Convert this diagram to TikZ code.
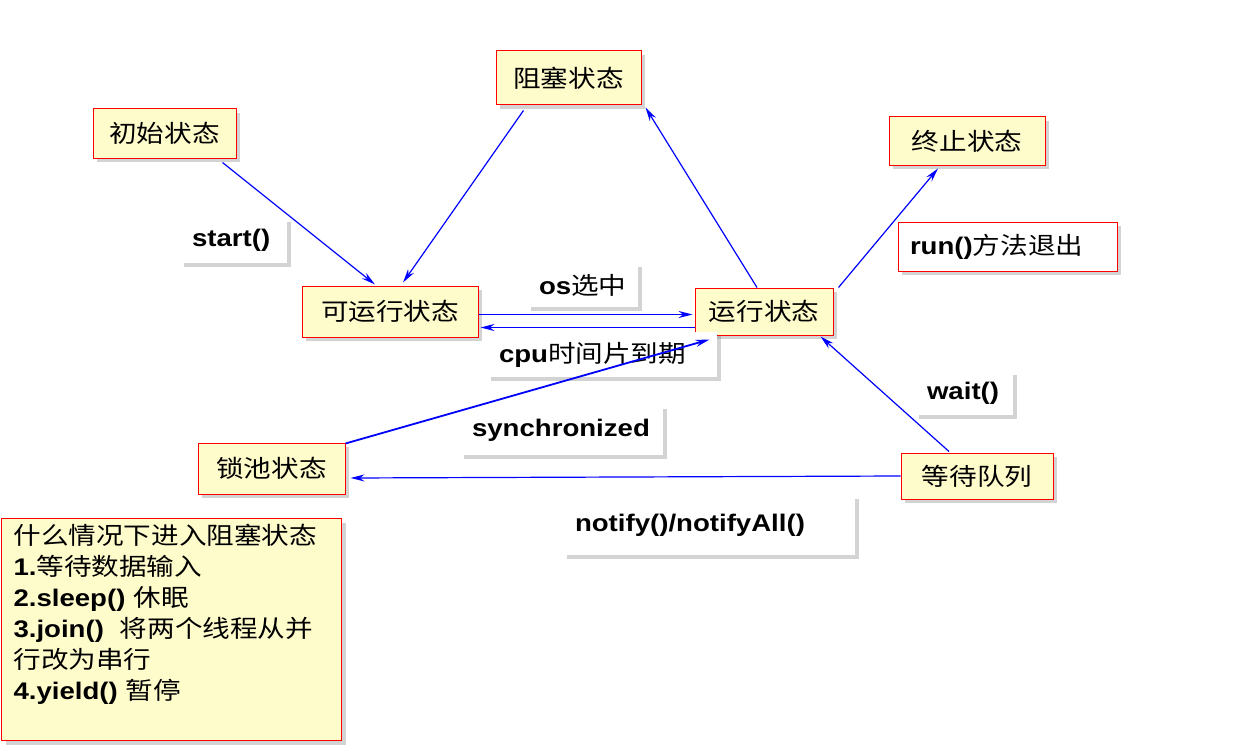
\documentclass[tikz,border=0pt]{standalone}
\usepackage{fontspec}
\setmainfont{Liberation Sans}[FakeStretch=1.15]
\newfontfamily\cjk{Noto Sans CJK SC}[FakeStretch=1.15]
\newcommand{\zh}[1]{{\cjk #1}}
\usetikzlibrary{arrows.meta,shadows}
\tikzset{
  statebox/.style={draw=red, line width=1pt, fill=yellow!20, inner sep=0pt,
    drop shadow={opacity=0.35, shadow xshift=4pt, shadow yshift=-4pt},
    font=\fontsize{24}{28}\selectfont},
  tagbox/.style={fill=white, inner xsep=12pt, inner ysep=0pt, align=left,
    drop shadow={opacity=0.35, shadow xshift=4pt, shadow yshift=-4pt},
    font=\fontsize{24}{28}\selectfont\bfseries},
  trans/.style={draw=blue, line width=1.2pt, -{Stealth[length=14pt,width=7pt]}}
}
\begin{document}
\begin{tikzpicture}[x=1pt, y=-1pt]
  \useasboundingbox (0,0) rectangle (1258,749);

  % states
  \node [statebox, minimum width=143pt, minimum height=49pt] (init) at (164.5,133.5) {\zh{初始状态}};
  \node [statebox, minimum width=145pt, minimum height=54pt] (block) at (568.5,78) {\zh{阻塞状态}};
  \node [statebox, minimum width=156pt, minimum height=48pt] (term) at (967,141) {\zh{终止状态}};
  \node [statebox, minimum width=176pt, minimum height=51pt] (ready) at (390,311.5) {\zh{可运行状态}};
  \node [statebox, minimum width=138pt, minimum height=47pt] (run) at (764,311.5) {\zh{运行状态}};
  \node [statebox, minimum width=147pt, minimum height=51pt] (lock) at (271.5,468.5) {\zh{锁池状态}};
  \node [statebox, minimum width=152pt, minimum height=46pt] (queue) at (977,476) {\zh{等待队列}};

  % note on blocking
  \node [statebox, anchor=north west, text width=316pt, inner xsep=12pt, inner ysep=6pt,
    align=left, font=\fontsize{24}{31}\selectfont] (info) at (1,518)
    {\zh{什么情况下进入阻塞状态}\\
     \textbf{1.}\zh{等待数据输入}\\
     \textbf{2.sleep()} \zh{休眠}\\
     \textbf{3.join()}\ \ \zh{将两个线程从并}\\
     \zh{行改为串行}\\
     \textbf{4.yield()} \zh{暂停}\\[4pt]\mbox{}};

  % labels
  \node [tagbox, text width=83pt, minimum height=45pt] (startLab) at (233.5,240.5) {start()};
  \node [tagbox, text width=87pt, minimum height=44pt] (osLab) at (582.5,285) {os\zh{\mdseries 选中}};
  \node [tagbox, text width=206pt, minimum height=45pt] (cpuLab) at (602,354.5) {cpu\zh{\mdseries 时间片到期}};
  \node [tagbox, text width=179pt, minimum height=50pt] (syncLab) at (561.5,430) {synchronized};
  \node [tagbox, text width=74pt, minimum height=44pt] (waitLab) at (964,393) {wait()};
  \node [tagbox, text width=268pt, minimum height=60pt] (notifyLab) at (709,525) {notify()/notifyAll()};
  \node [tagbox, draw=red, line width=1pt, text width=195pt, minimum height=49pt] (exitLab) at (1007.5,246.5) {run()\zh{\mdseries 方法退出}};

  % transitions
  \draw [trans] ([xshift=-14pt, yshift=-4pt]init.south east) -- ([xshift=-15pt, yshift=1pt]ready.north);
  \draw [trans] ([xshift=-45pt, yshift=-5pt]block.south) -- ([xshift=13pt, yshift=3pt]ready.north);
  \draw [trans] ([xshift=-7pt]run.north) -- ([xshift=4pt, yshift=-2pt]block.south east);
  \draw [trans] ([xshift=5pt]run.north east) -- ([xshift=-29pt, yshift=-3pt]term.south);
  \draw [trans] ([yshift=-3pt]ready.east) -- ([xshift=-2pt, yshift=-3pt]run.west);
  \draw [trans] ([yshift=-16pt]run.west) -- ([xshift=2pt, yshift=-16pt]ready.east);
  \draw [trans, line width=1.8pt] ([yshift=-1pt]lock.north east) -- ([xshift=15pt, yshift=-4pt]run.south west);
  \draw [trans] ([xshift=-28pt, yshift=1pt]queue.north) -- ([xshift=-13pt, yshift=-1pt]run.south east);
  \draw [trans] (queue.west) -- ([xshift=5pt, yshift=-9.5pt]lock.east);
\end{tikzpicture}
\end{document}
